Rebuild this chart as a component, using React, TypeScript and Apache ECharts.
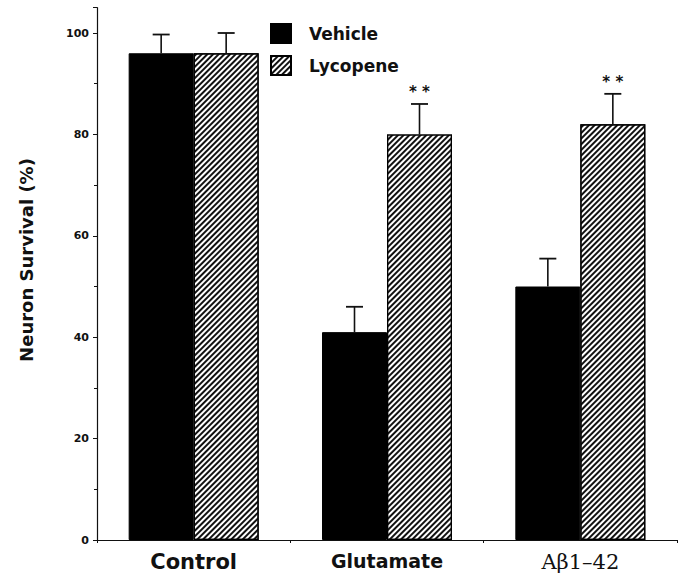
import React, { useEffect, useRef } from "react";
import * as echarts from "echarts";

const categories = ["Control", "Glutamate", "Aβ1–42"];
const vehicle = [96, 41, 50];
const vehicleErr = [3.7, 5, 5.5];
const lycopene = [96, 80, 82];
const lycopeneErr = [4, 6, 6];
const lycopeneMarks = ["", "* *", "* *"];
const yTicks = { min: 0, max: 105, interval: 20 };

const BAR_W = 65;
const SANS = "DejaVu Sans";

function errorSeries(name: string, values: number[], errs: number[], side: number, marks?: string[]) {
  return {
    type: "custom",
    name: name + "-err",
    z: 5,
    silent: true,
    data: values.map((v, i) => [i, v, v + errs[i]]),
    renderItem: (params: any, api: any) => {
      const idx = api.value(0);
      const base = api.coord([idx, api.value(1)]);
      const top = api.coord([idx, api.value(2)]);
      const x = base[0] + side * (BAR_W / 2);
      const half = 8.5;
      const children: any[] = [
        { type: "line", shape: { x1: x, y1: base[1], x2: x, y2: top[1] }, style: { stroke: "#111", lineWidth: 1.6 } },
        { type: "line", shape: { x1: x - half, y1: top[1], x2: x + half, y2: top[1] }, style: { stroke: "#111", lineWidth: 1.8 } },
      ];
      const mark = marks ? marks[idx] : "";
      if (mark) {
        children.push({
          type: "text",
          style: {
            text: mark,
            x: x,
            y: top[1] - 12,
            align: "center",
            verticalAlign: "middle",
            fontFamily: SANS,
            fontWeight: "bold",
            fontSize: 15,
            fill: "#111",
          },
        });
      }
      return { type: "group", children };
    },
  };
}

export default function App() {
  const ref = useRef<HTMLDivElement>(null);
  useEffect(() => {
    if (!ref.current) return;
    const chart = echarts.init(ref.current, undefined, { renderer: "svg" });
    chart.setOption({
      animation: false,
      backgroundColor: "#fff",
      grid: { left: 97, right: 7, top: 540 - 105 * 5.07, bottom: 33, containLabel: false },
      legend: {
        orient: "vertical",
        left: 270,
        top: 23,
        padding: 0,
        icon: "rect",
        itemWidth: 20,
        itemHeight: 19,
        itemGap: 11,
        data: ["Vehicle", "Lycopene"],
        textStyle: { fontFamily: SANS, fontWeight: "bold", fontSize: 17, color: "#111", padding: [0, 0, 0, 13] },
      },
      xAxis: {
        type: "category",
        data: categories,
        axisLine: { lineStyle: { color: "#111", width: 1.2 } },
        axisTick: { show: true, length: 3, inside: false, lineStyle: { color: "#111" } },
        axisLabel: {
          margin: 11,
          formatter: (v: string, i: number) => ["{a|", "{b|", "{c|"][i] + v + "}",
          rich: {
            a: { fontFamily: SANS, fontWeight: "bold", fontSize: 21, color: "#111" },
            b: { fontFamily: SANS, fontWeight: "bold", fontSize: 19, color: "#111" },
            c: { fontFamily: "DejaVu Serif", fontWeight: "normal", fontSize: 21, color: "#111" },
          },
        },
      },
      yAxis: {
        type: "value",
        min: yTicks.min,
        max: yTicks.max,
        interval: yTicks.interval,
        splitLine: { show: false },
        axisLine: { show: true, lineStyle: { color: "#111", width: 1.2 } },
        axisTick: { show: true, length: 4, lineStyle: { color: "#111" } },
        minorTick: { show: true, splitNumber: 2, length: 3, lineStyle: { color: "#111" } },
        axisLabel: {
          margin: 8,
          fontFamily: SANS,
          fontWeight: "bold",
          fontSize: 11,
          color: "#111",
          formatter: (v: number) => (v % 20 === 0 && v <= 100 ? String(v) : ""),
        },
      },
      graphic: [
        {
          type: "text",
          x: 26,
          y: 260,
          rotation: Math.PI / 2,
          style: {
            text: "Neuron Survival (%)",
            align: "center",
            verticalAlign: "middle",
            fontFamily: SANS,
            fontWeight: "bold",
            fontSize: 18,
            fill: "#111",
          },
        },
      ],
      series: [
        {
          name: "Vehicle",
          type: "bar",
          data: vehicle,
          barWidth: BAR_W,
          barGap: "0%",
          itemStyle: { color: "#000", borderColor: "#000", borderWidth: 1 },
        },
        {
          name: "Lycopene",
          type: "bar",
          data: lycopene,
          barWidth: BAR_W,
          barGap: "0%",
          itemStyle: {
            color: "#fff",
            borderColor: "#000",
            borderWidth: 1.2,
            decal: {
              symbol: "rect",
              symbolSize: 1,
              dashArrayX: [1, 0],
              dashArrayY: [1.9, 1.2],
              rotation: -Math.PI / 4,
              color: "#111",
            },
          },
        },
        errorSeries("Vehicle", vehicle, vehicleErr, -1),
        errorSeries("Lycopene", lycopene, lycopeneErr, 1, lycopeneMarks),
      ],
    });
    return () => chart.dispose();
  }, []);
  return <div ref={ref} style={{ position: "fixed", left: 0, top: 0, width: 684, height: 573 }} />;
}
